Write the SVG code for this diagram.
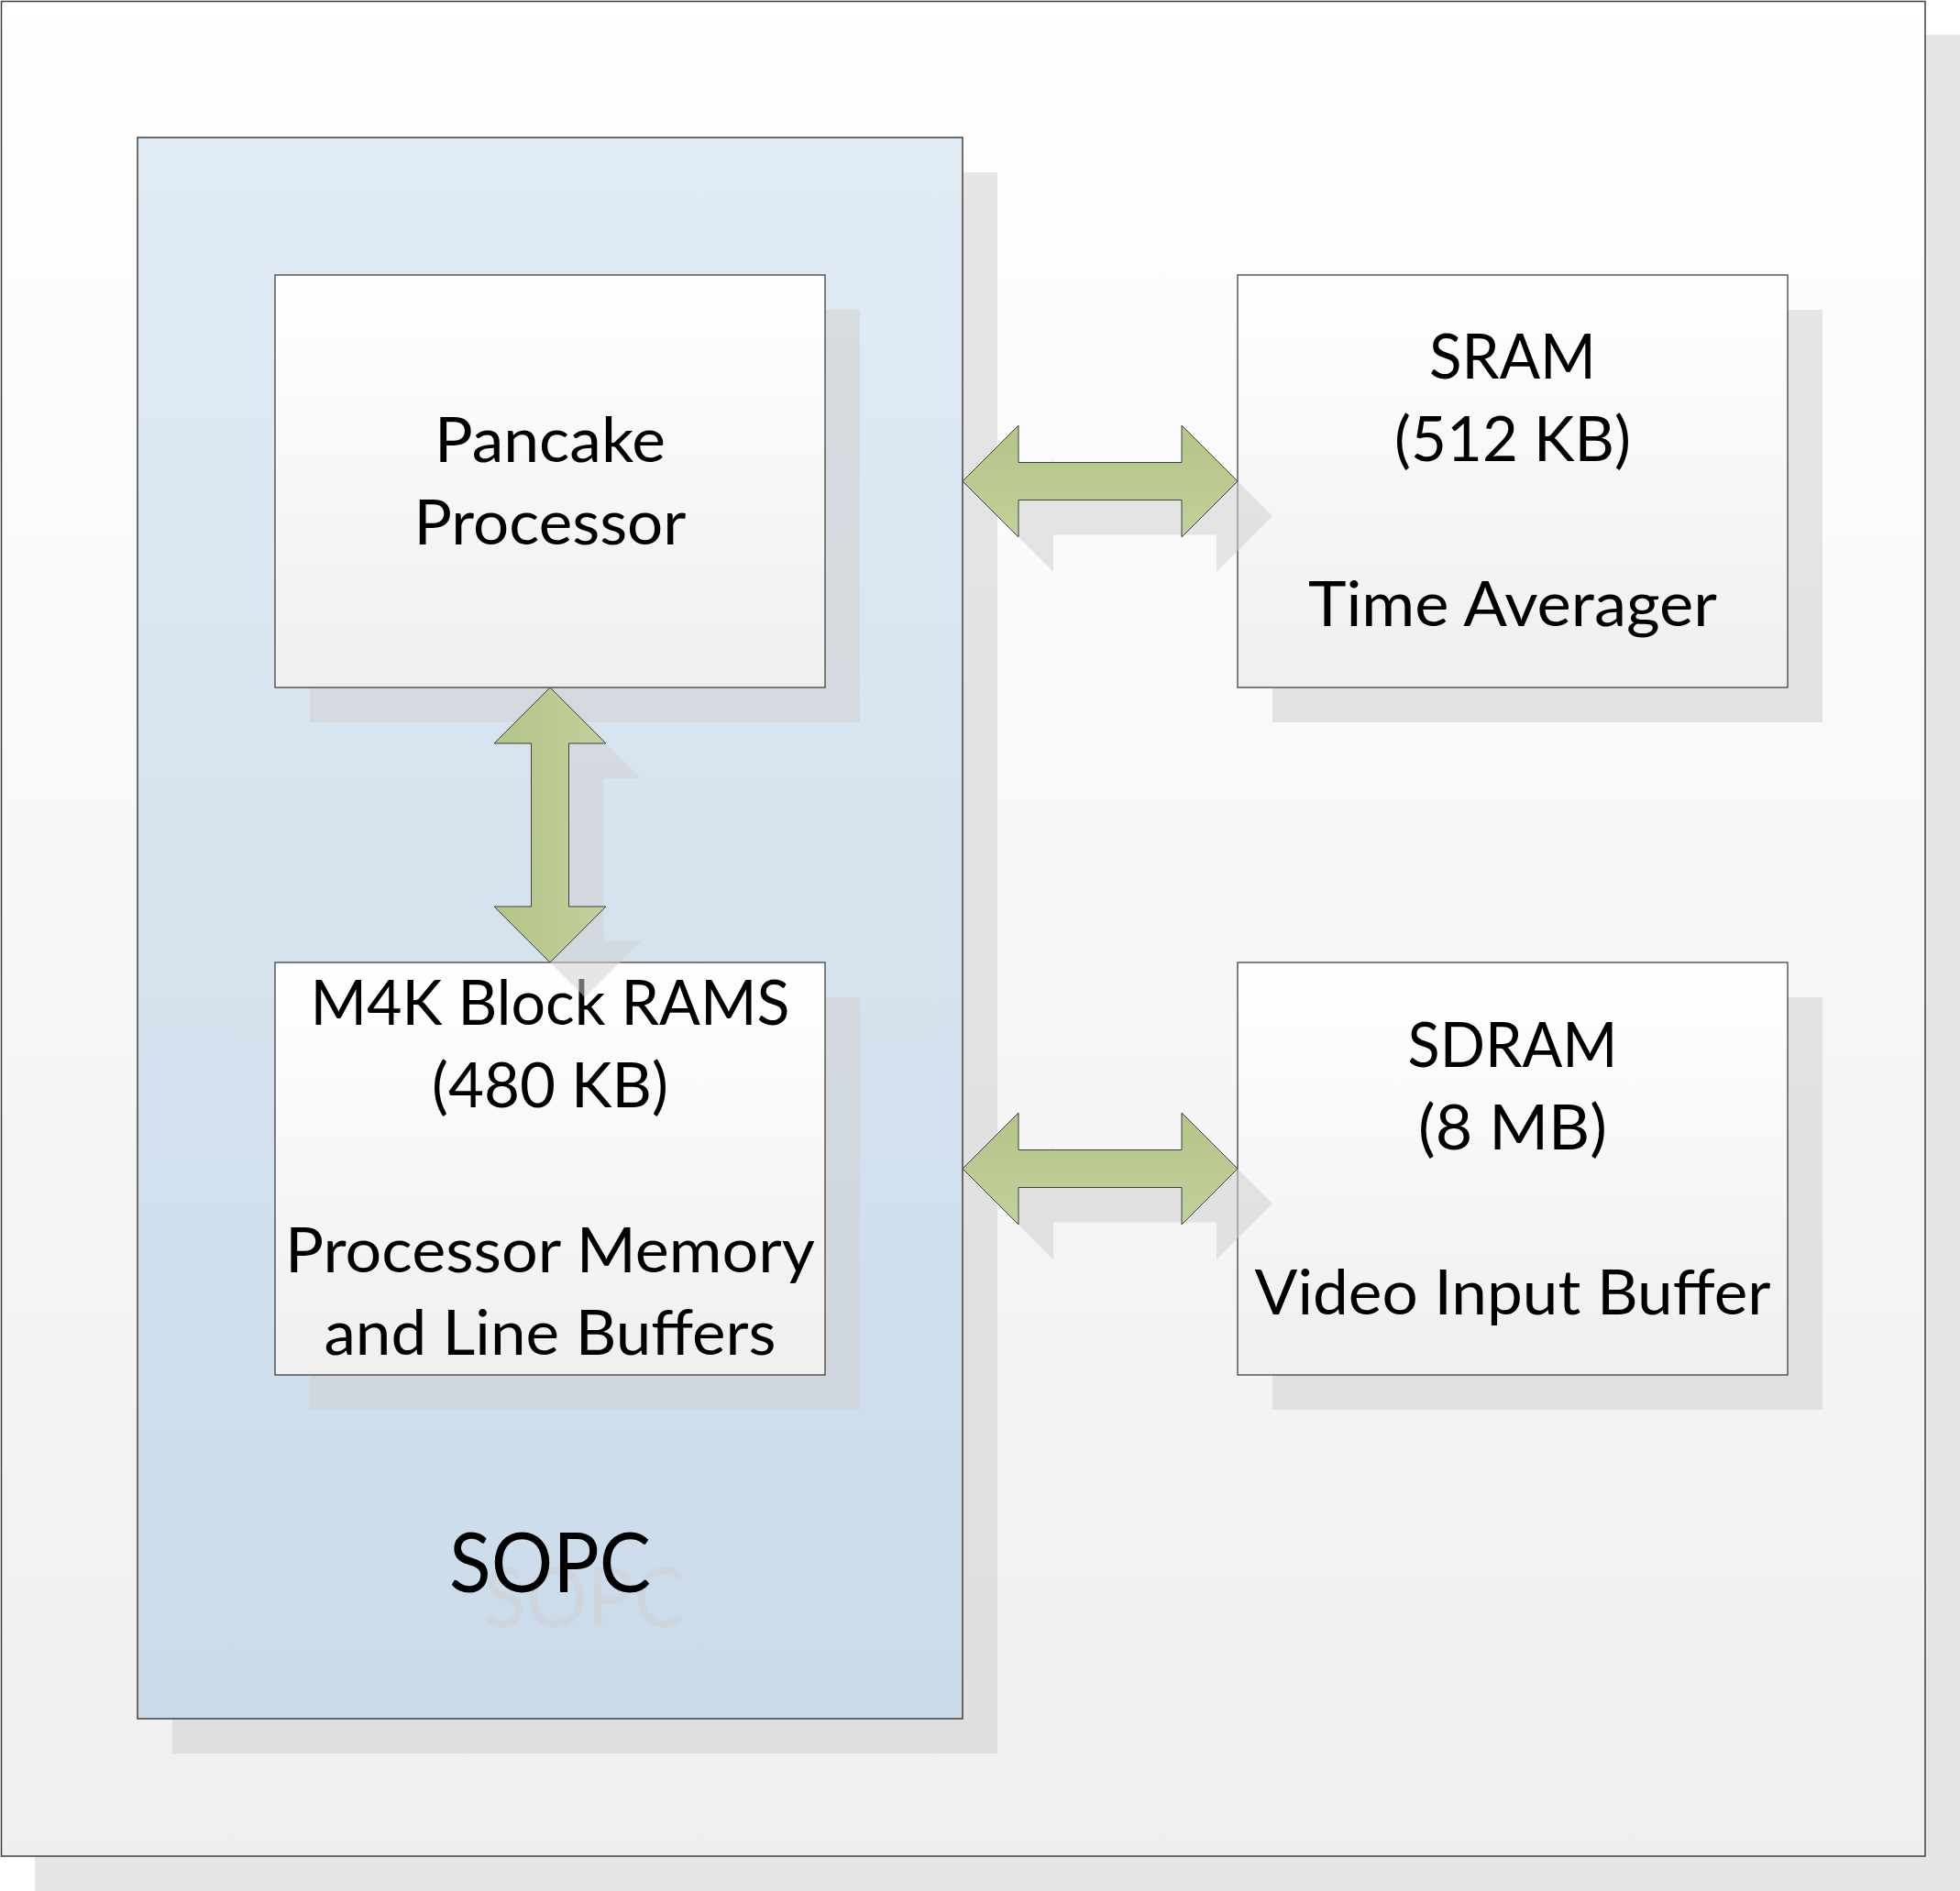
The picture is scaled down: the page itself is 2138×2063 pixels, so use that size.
<svg xmlns="http://www.w3.org/2000/svg" width="2138" height="2063" viewBox="0 0 2138 2063">
<style>
.shadow{fill:#cfcfcf;fill-opacity:0.53;stroke:none}
.frame{fill:url(#gFrame);stroke:#404040;stroke-width:1.5}
.sopc{fill:url(#gSopc);stroke:#404040;stroke-width:1.5}
.box{fill:url(#gBox);stroke:#404040;stroke-width:1.3}
.harrow{fill:url(#gArrowH);stroke:#404040;stroke-width:1}
.varrow{fill:url(#gArrowV);stroke:#404040;stroke-width:1}
.lbl{font-family:Lato,"Open Sans","Liberation Sans",sans-serif;font-size:67px;fill:#000;text-anchor:middle}
.big{font-family:Lato,"Open Sans","Liberation Sans",sans-serif;font-size:91px;text-anchor:middle}
</style>
<defs>
<linearGradient id="gFrame" x1="0" y1="0" x2="0" y2="1"><stop offset="0" stop-color="#ffffff"/><stop offset="1" stop-color="#efefef"/></linearGradient>
<linearGradient id="gSopc" x1="0" y1="0" x2="0" y2="1"><stop offset="0" stop-color="#e1ebf4"/><stop offset="1" stop-color="#cadbea"/></linearGradient>
<linearGradient id="gBox" x1="0" y1="0" x2="0" y2="1"><stop offset="0" stop-color="#ffffff"/><stop offset="1" stop-color="#efefef"/></linearGradient>
<linearGradient id="gArrowH" x1="0" y1="0" x2="0" y2="1"><stop offset="0" stop-color="#b4c386"/><stop offset="1" stop-color="#c2d19c"/></linearGradient>
<linearGradient id="gArrowV" x1="0" y1="0" x2="1" y2="0"><stop offset="0" stop-color="#b4c386"/><stop offset="1" stop-color="#c2d19c"/></linearGradient>
</defs>
<rect width="2138" height="2063" fill="#ffffff"/>
<g id="background">
<rect class="shadow" x="38" y="38" width="2100" height="2025"/>
<rect class="frame" x="1.5" y="1.5" width="2098.5" height="2023.5"/>
</g>
<g id="node-sopc">
<rect class="shadow" x="188" y="188" width="900" height="1725"/>
<rect class="sopc" x="150" y="150" width="900" height="1725"/>
<text class="big" x="637.5" y="1774.5" fill="#cfcfcf" fill-opacity="0.53" textLength="220" lengthAdjust="spacingAndGlyphs">SOPC</text>
<text class="big" x="600" y="1737" fill="#000" textLength="220" lengthAdjust="spacingAndGlyphs">SOPC</text>
</g>
<g id="node-pancake">
<rect class="shadow" x="338" y="338" width="600" height="450"/>
<rect class="box" x="300" y="300" width="600" height="450"/>
<text class="lbl" x="600" y="504" textLength="252" lengthAdjust="spacingAndGlyphs">Pancake</text>
<text class="lbl" x="600" y="594" textLength="297" lengthAdjust="spacingAndGlyphs">Processor</text>
</g>
<g id="node-m4k">
<rect class="shadow" x="338" y="1088" width="600" height="450"/>
<rect class="box" x="300" y="1050" width="600" height="450"/>
<text class="lbl" x="600" y="1118" textLength="523" lengthAdjust="spacingAndGlyphs">M4K Block RAMS</text>
<text class="lbl" x="600" y="1208" textLength="258" lengthAdjust="spacingAndGlyphs">(480 KB)</text>
<text class="lbl" x="600" y="1388" textLength="578" lengthAdjust="spacingAndGlyphs">Processor Memory</text>
<text class="lbl" x="600" y="1478" textLength="493" lengthAdjust="spacingAndGlyphs">and Line Buffers</text>
</g>
<g id="node-sram">
<rect class="shadow" x="1388" y="338" width="600" height="450"/>
<rect class="box" x="1350" y="300" width="600" height="450"/>
<text class="lbl" x="1650" y="413" textLength="182" lengthAdjust="spacingAndGlyphs">SRAM</text>
<text class="lbl" x="1650" y="503" textLength="258" lengthAdjust="spacingAndGlyphs">(512 KB)</text>
<text class="lbl" x="1650" y="683" textLength="446" lengthAdjust="spacingAndGlyphs">Time Averager</text>
</g>
<g id="node-sdram">
<rect class="shadow" x="1388" y="1088" width="600" height="450"/>
<rect class="box" x="1350" y="1050" width="600" height="450"/>
<text class="lbl" x="1650" y="1164" textLength="229" lengthAdjust="spacingAndGlyphs">SDRAM</text>
<text class="lbl" x="1650" y="1254" textLength="206" lengthAdjust="spacingAndGlyphs">(8 MB)</text>
<text class="lbl" x="1650" y="1434" textLength="563" lengthAdjust="spacingAndGlyphs">Video Input Buffer</text>
</g>
<g id="connectors">
<g id="conn-pancake-m4k">
<polygon class="shadow" transform="translate(38,38)" points="600,750 661,811 620.5,811 620.5,989 661,989 600,1050 539,989 579.5,989 579.5,811 539,811"/>
<polygon class="varrow" points="600,750 661,811 620.5,811 620.5,989 661,989 600,1050 539,989 579.5,989 579.5,811 539,811"/>
</g>
<g id="conn-sopc-sram">
<polygon class="shadow" transform="translate(38,38)" points="1050,525 1111,464 1111,504.5 1289,504.5 1289,464 1350,525 1289,586 1289,545.5 1111,545.5 1111,586"/>
<polygon class="harrow" points="1050,525 1111,464 1111,504.5 1289,504.5 1289,464 1350,525 1289,586 1289,545.5 1111,545.5 1111,586"/>
</g>
<g id="conn-sopc-sdram">
<polygon class="shadow" transform="translate(38,38)" points="1050,1275 1111,1214 1111,1254.5 1289,1254.5 1289,1214 1350,1275 1289,1336 1289,1295.5 1111,1295.5 1111,1336"/>
<polygon class="harrow" points="1050,1275 1111,1214 1111,1254.5 1289,1254.5 1289,1214 1350,1275 1289,1336 1289,1295.5 1111,1295.5 1111,1336"/>
</g>
</g>
</svg>
